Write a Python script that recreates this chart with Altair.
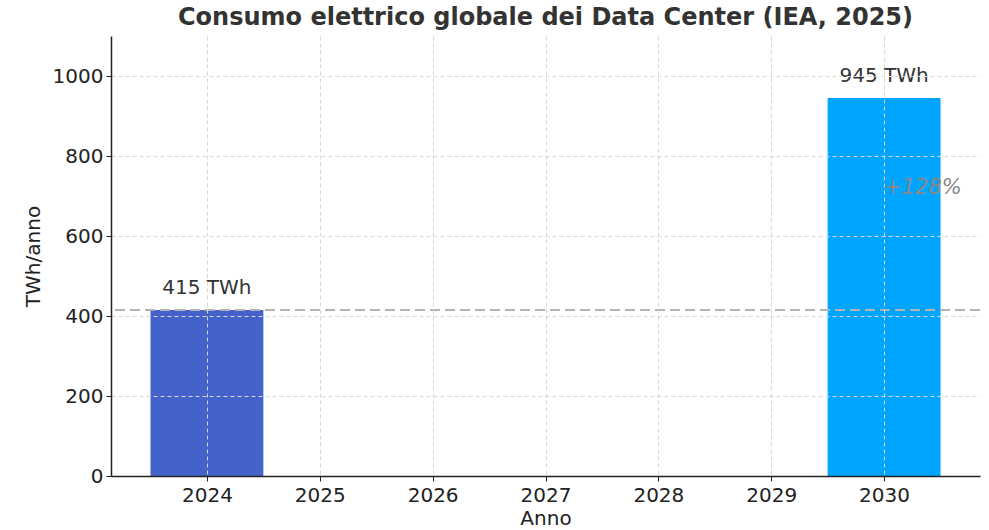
import altair as alt
import pandas as pd

# Global data-centre electricity consumption (IEA, 2025)
years = [2024, 2030]
values = [415, 945]
colors = ["#4363CA", "#00A5FF"]
labels = ["415 TWh", "945 TWh"]
tick_years = [2024, 2025, 2026, 2027, 2028, 2029, 2030]
y_ticks = [0, 200, 400, 600, 800, 1000]
baseline_value = 415
growth_label = "+128%"
growth_y = 720

FONT = "DejaVu Sans"

bars_df = pd.DataFrame({
    "year": years,
    "x0": [y - 0.5 for y in years],
    "x1": [y + 0.5 for y in years],
    "value": values,
    "color": colors,
    "label": labels,
})

x_scale = alt.Scale(domain=[2023.15, 2030.85], nice=False, zero=False)
y_scale = alt.Scale(domain=[0, 1100], nice=False)

x_axis = alt.Axis(
    values=tick_years, format="d", title="Anno", grid=True,
    gridColor="#d6d6d6", gridDash=[4, 3], gridWidth=1,
    domainColor="#222222", domainWidth=1.5, tickColor="#222222",
    tickSize=5, labelFontSize=20, labelColor="#222222", labelPadding=4,
    titleFontSize=20, titleFontWeight="normal", titleColor="#222222",
    titlePadding=3, labelFont=FONT, titleFont=FONT, zindex=1,
)
y_axis = alt.Axis(
    values=y_ticks, format="d", title="TWh/anno", grid=True,
    gridColor="#d6d6d6", gridDash=[4, 3], gridWidth=1,
    domainColor="#222222", domainWidth=1.5, tickColor="#222222",
    tickSize=5, labelFontSize=20, labelColor="#222222", labelPadding=3,
    titleFontSize=20, titleFontWeight="normal", titleColor="#222222",
    titlePadding=9, labelFont=FONT, titleFont=FONT, zindex=1,
)

bars = alt.Chart(bars_df).mark_rect().encode(
    x=alt.X("x0:Q", scale=x_scale, axis=x_axis),
    x2="x1:Q",
    y=alt.Y("value:Q", scale=y_scale, axis=y_axis),
    y2=alt.datum(0),
    color=alt.Color("color:N", scale=None),
)

value_text = alt.Chart(bars_df).mark_text(
    font=FONT, fontSize=20, color="#333333", baseline="bottom", dy=-12,
).encode(
    x=alt.X("year:Q", scale=x_scale),
    y=alt.Y("value:Q", scale=y_scale),
    text="label:N",
)

base_rule = alt.Chart(pd.DataFrame({"v": [baseline_value]})).mark_rule(
    color="#b3b3b3", strokeWidth=2, strokeDash=[10, 5],
).encode(y=alt.Y("v:Q", scale=y_scale))

growth_text = alt.Chart(pd.DataFrame({
    "x": [years[-1]], "y": [growth_y], "t": [growth_label]
})).mark_text(
    font=FONT, fontSize=21, fontStyle="italic", color="#888888",
    align="left", baseline="middle",
).encode(
    x=alt.X("x:Q", scale=x_scale),
    y=alt.Y("y:Q", scale=y_scale),
    text="t:N",
)

chart = alt.layer(bars, base_rule, value_text, growth_text).properties(
    width=869,
    height=440,
    background="white",
    autosize=alt.AutoSizeParams(type="none"),
    padding={"left": 111, "top": 36, "right": 9, "bottom": 54},
    title=alt.TitleParams(
        "Consumo elettrico globale dei Data Center (IEA, 2025)",
        font=FONT, fontSize=24, fontWeight="bold", color="#333333",
        anchor="middle", offset=6,
    ),
).configure_view(stroke=None)

chart.save("out.html", embed_options={"renderer": "svg", "actions": False})
